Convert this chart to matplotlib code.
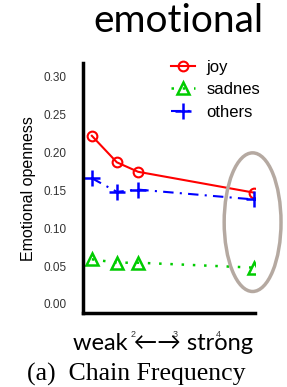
import matplotlib
matplotlib.use('Agg')
import matplotlib.pyplot as plt
from matplotlib.patches import Ellipse

# chain frequency (weak -> strong) and emotional openness
freq = [1.03, 1.62, 2.12, 4.85]
joy = [0.222, 0.187, 0.1745, 0.147]
sadnes = [0.059, 0.0545, 0.0545, 0.048]
others = [0.166, 0.148, 0.151, 0.138]
yticks = [0.00, 0.05, 0.10, 0.15, 0.20, 0.25, 0.30]
xticks = [2, 3, 4]

fig = plt.figure(figsize=(2.87, 3.87), dpi=100)
ax = fig.add_axes([0.289, 0.191, 0.6, 0.646])

ax.plot(freq, joy, color='#ff0000', lw=1.5, ls='-', marker='o', ms=7,
        mfc='none', mew=1.5, label='joy')
ax.plot(freq, sadnes, color='#00cc00', lw=1.8, ls=(0, (1, 3.5)), marker='^', ms=8,
        mfc='none', mew=1.8, label='sadnes')
ax.plot(freq, others, color='#0000ff', lw=1.5, ls=(0, (5, 3, 1, 3)), marker='+', ms=11,
        mew=1.8, label='others')

# circle around the strongest chain
ax.add_patch(Ellipse((4.82, 0.108), 1.34, 0.183, fill=False, ec='#b5a9a1',
                     lw=2.5, clip_on=False, zorder=5))

ax.set_xlim(0.82, 4.88)
ax.set_ylim(-0.012, 0.318)
ax.set_yticks(yticks)
ax.set_yticklabels(['%.2f' % v for v in yticks], fontsize=8.5,
                   family=['Liberation Sans'], color='#333333')
ax.set_xticks(xticks)
ax.set_xticklabels([str(v) for v in xticks], fontsize=6.5,
                   family=['Liberation Sans'], color='#333333')
ax.tick_params(axis='y', direction='in', length=3, width=1, color='white', pad=12)
ax.tick_params(axis='x', length=0, pad=12)

for s in ['top', 'right']:
    ax.spines[s].set_visible(False)
for s in ['left', 'bottom']:
    ax.spines[s].set_linewidth(2.5)

ax.set_ylabel('Emotional openness', fontsize=11.5, family=['Liberation Sans'], labelpad=5)

leg = ax.legend(loc='upper left', bbox_to_anchor=(0.545, 0.885),
                bbox_transform=fig.transFigure, frameon=False,
                prop={'family': 'Liberation Sans', 'size': 12}, handlelength=1.4,
                handletextpad=0.7, labelspacing=0.45)

fig.text(0.62, 0.945, 'emotional', fontsize=28, family=['Lato', 'DejaVu Sans'],
         ha='center', va='center')
fig.text(0.567, 0.113, 'weak \u2190\u2192 strong', fontsize=17,
         family=['Lato', 'DejaVu Sans'], ha='center', va='center')
fig.text(0.475, 0.033, '(a)  Chain Frequency', fontsize=18.5,
         family=['Liberation Serif'], ha='center', va='center')

fig.savefig('out.png', dpi=100)
